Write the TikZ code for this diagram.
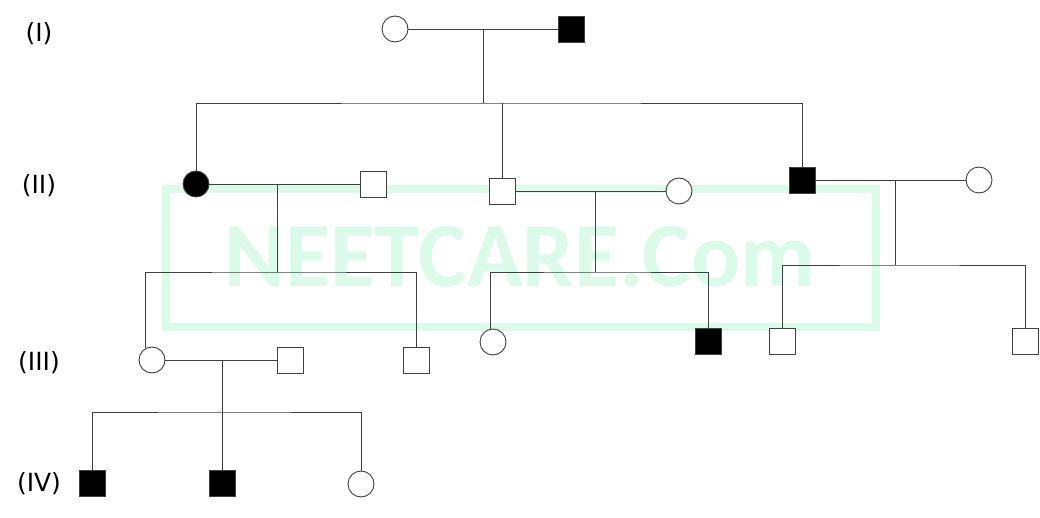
\documentclass[tikz,border=0pt]{standalone}
\usepackage{fontspec}
\setmainfont{Carlito}
\newfontfamily\genfont{DejaVu Sans}
\definecolor{wmgreen}{RGB}{218,251,234}
\tikzset{male/.style = {draw, fill = white, rectangle, minimum size = 26, inner sep = 0}}
\tikzset{female/.style = {draw, fill = white, circle, minimum size = 26, inner sep = 0}}
\tikzset{ill/.style = {fill = black}}
\tikzset{gen/.style = {font = \genfont\fontsize{25}{30}\selectfont}}
\begin{document}
\begin{tikzpicture}[x = 1pt, y = -1pt, line width = 0.9pt, draw = black!75]
      \useasboundingbox (0, 0) rectangle (1040, 518);

      \draw [wmgreen, line width = 8] (166, 189) rectangle (876, 327);
      \node [text = wmgreen, font = \fontsize{92}{100}\selectfont\bfseries] (wm) at (520, 257) {NEETCARE.Com};

      \node [gen] (g1) at (39, 34) {(I)};
      \node [gen] (g2) at (39, 186) {(II)};
      \node [gen] (g3) at (39, 363) {(III)};
      \node [gen] (g4) at (39, 484) {(IV)};

      \node [female] (i1) at (395, 29) {};
      \node [male, ill] (i2) at (571, 29) {};

      \node [female, ill] (ii1) at (196, 184) {};
      \node [male] (ii2) at (373, 184) {};
      \node [male] (ii3) at (502, 191) {};
      \node [female] (ii4) at (679, 191) {};
      \node [male, ill] (ii5) at (802, 180) {};
      \node [female] (ii6) at (979, 180) {};

      \node [female] (iii1) at (152, 360) {};
      \node [male] (iii2) at (290, 360) {};
      \node [male] (iii3) at (416, 360) {};
      \node [female] (iii4) at (493, 342) {};
      \node [male, ill] (iii5) at (708, 341) {};
      \node [male] (iii6) at (782, 341) {};
      \node [male] (iii7) at (1025, 341) {};

      \node [male, ill] (iv1) at (92, 483) {};
      \node [male, ill] (iv2) at (222, 483) {};
      \node [female] (iv3) at (361, 484) {};

      \coordinate (m1) at (483, 29);
      \coordinate (s1) at (483, 103);
      \coordinate (m2) at (277, 184);
      \coordinate (s2) at (277, 272);
      \coordinate (m3) at (595, 191);
      \coordinate (s3) at (595, 272);
      \coordinate (m4) at (895, 180);
      \coordinate (s4) at (895, 265);
      \coordinate (m5) at (222, 360);
      \coordinate (s5) at (222, 412);

      \draw (i1) -- (i2);
      \draw (m1) -- (s1);
      \draw (ii1) |- (s1) -| (ii5);
      \draw (ii3) -- (ii3 |- s1);

      \draw (ii1) -- (ii2);
      \draw (m2) -- (s2);
      \draw (iii1.117) |- (s2) -| (iii3);

      \draw (ii3) -- (ii4);
      \draw (m3) -- (s3);
      \draw (iii4.103) |- (s3) -| (iii5);

      \draw (ii5) -- (ii6);
      \draw (m4) -- (s4);
      \draw (iii6) |- (s4) -| (iii7);

      \draw (iii1) -- (iii2);
      \draw (m5) -- (s5);
      \draw (iv1) |- (s5) -| (iv3);
      \draw (iv2) -- (iv2 |- s5);
    \end{tikzpicture}
\end{document}
